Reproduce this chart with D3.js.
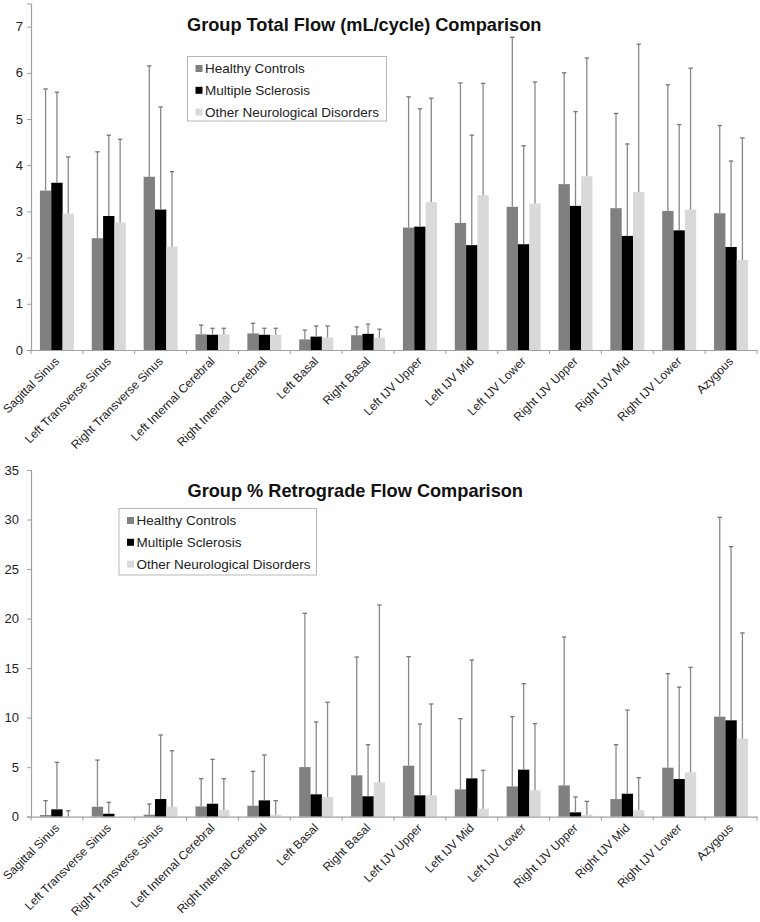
<!DOCTYPE html>
<html>
<head>
<meta charset="utf-8">
<script src="https://cdn.jsdelivr.net/npm/d3@7"></script>
<style>
  html, body { margin: 0; padding: 0; background: #fff; }
  svg { display: block; font-family: Arial, "Liberation Sans", sans-serif; }
</style>
</head>
<body>
<svg id="chart" width="760" height="922"></svg>
<script>
// ---------- DATA ----------
const categories = ["Sagittal Sinus", "Left Transverse Sinus", "Right Transverse Sinus",
  "Left Internal Cerebral", "Right Internal Cerebral", "Left Basal", "Right Basal",
  "Left IJV Upper", "Left IJV Mid", "Left IJV Lower", "Right IJV Upper", "Right IJV Mid",
  "Right IJV Lower", "Azygous"];
const seriesNames = ["Healthy Controls", "Multiple Sclerosis", "Other Neurological Disorders"];

// Chart 1: Group Total Flow (mL/cycle) - means and SD
const flowHC     = [3.45, 2.42, 3.75, 0.34, 0.36, 0.23, 0.32, 2.65, 2.75, 3.10, 3.59, 3.07, 3.01, 2.96];
const flowHCsd   = [2.20, 1.87, 2.40, 0.20, 0.22, 0.20, 0.18, 2.83, 3.03, 3.67, 2.41, 2.05, 2.73, 1.90];
const flowMS     = [3.62, 2.90, 3.04, 0.33, 0.33, 0.29, 0.35, 2.67, 2.27, 2.29, 3.12, 2.47, 2.59, 2.23];
const flowMSsd   = [1.96, 1.75, 2.22, 0.14, 0.14, 0.23, 0.21, 2.55, 2.38, 2.13, 2.04, 1.99, 2.29, 1.86];
const flowOND    = [2.95, 2.76, 2.24, 0.34, 0.33, 0.27, 0.27, 3.20, 3.35, 3.17, 3.76, 3.42, 3.04, 1.95];
const flowONDsd  = [1.23, 1.80, 1.62, 0.13, 0.14, 0.25, 0.18, 2.25, 2.42, 2.63, 2.56, 3.20, 3.06, 2.64];
const flowTicks  = [0, 1, 2, 3, 4, 5, 6, 7];

// Chart 2: Group % Retrograde Flow - means and SD
const retroHC    = [0.17, 1.01, 0.20, 1.04, 1.11, 5.01, 4.18, 5.15, 2.76, 3.06, 3.16, 1.78, 4.95, 10.10];
const retroHCsd  = [1.45, 4.71, 1.08, 2.80, 3.47, 15.52, 11.94, 11.01, 7.14, 7.04, 14.98, 5.49, 9.49, 20.12];
const retroMS    = [0.74, 0.30, 1.78, 1.31, 1.65, 2.26, 2.06, 2.16, 3.87, 4.75, 0.44, 2.32, 3.80, 9.73];
const retroMSsd  = [4.75, 1.15, 6.47, 4.48, 4.58, 7.30, 5.21, 7.20, 11.95, 8.68, 1.55, 8.45, 9.29, 17.53];
const retroOND   = [0.03, 0.00, 1.01, 0.67, 0.20, 1.99, 3.47, 2.16, 0.81, 2.66, 0.20, 0.67, 4.48, 7.88];
const retroONDsd = [0.57, 0.00, 5.65, 3.17, 1.42, 9.56, 17.90, 9.22, 3.87, 6.73, 1.35, 3.27, 10.60, 10.67];
const retroTicks = [0, 5, 10, 15, 20, 25, 30, 35];

const colors = ["#808080", "#000000", "#d9d9d9"];

// ---------- DRAW ----------
const svg = d3.select("#chart");

function drawChart(opt) {
  const g = svg.append("g");
  const x0 = d3.scaleBand().domain(categories).range([opt.left, opt.right])
    .paddingInner(0.344).paddingOuter(0.172);
  const x1 = d3.scaleBand().domain(seriesNames).range([0, x0.bandwidth()]);
  const y = d3.scaleLinear().domain(opt.domain).range([opt.bottom, opt.top]);

  const data = categories.map((c, i) => ({
    cat: c,
    vals: seriesNames.map((s, k) => ({ s, k, v: opt.means[k][i], sd: opt.sds[k][i] }))
  }));

  // bars
  const grp = g.selectAll("g.grp").data(data).join("g")
    .attr("transform", d => `translate(${x0(d.cat)},0)`);
  grp.selectAll("rect").data(d => d.vals).join("rect")
    .attr("x", d => x1(d.s))
    .attr("width", x1.bandwidth())
    .attr("y", d => y(d.v))
    .attr("height", d => y(0) - y(d.v))
    .attr("fill", d => colors[d.k]);

  // error bars (upward only)
  const eb = grp.selectAll("g.eb").data(d => d.vals.filter(v => v.sd > 0)).join("g");
  eb.append("line")
    .attr("x1", d => x1(d.s) + x1.bandwidth() / 2)
    .attr("x2", d => x1(d.s) + x1.bandwidth() / 2)
    .attr("y1", d => y(d.v))
    .attr("y2", d => y(d.v + d.sd))
    .attr("stroke", "#888").attr("stroke-width", 1.3);
  eb.append("line")
    .attr("x1", d => x1(d.s) + x1.bandwidth() / 2 - 2.2)
    .attr("x2", d => x1(d.s) + x1.bandwidth() / 2 + 2.2)
    .attr("y1", d => y(d.v + d.sd))
    .attr("y2", d => y(d.v + d.sd))
    .attr("stroke", "#777").attr("stroke-width", 1.3);

  // y axis
  const ya = g.append("g").attr("transform", `translate(${opt.left},0)`)
    .call(d3.axisLeft(y).tickValues(opt.ticks).tickSize(4).tickPadding(opt.tickPad).tickFormat(d3.format("d")));
  ya.select(".domain").attr("stroke", "#a0a0a0").attr("stroke-width", 1.2);
  ya.selectAll(".tick line").attr("stroke", "#a0a0a0");
  ya.selectAll(".tick text").attr("fill", "#222").style("font-size", "13px")
    .style("font-family", "Arial, 'Liberation Sans', sans-serif");

  // x axis
  const xa = g.append("g").attr("transform", `translate(0,${opt.bottom})`)
    .call(d3.axisBottom(x0).tickSize(0).tickPadding(0));
  xa.select(".domain").attr("stroke", "#a0a0a0").attr("stroke-width", 1.2);
  xa.selectAll(".tick text")
    .attr("text-anchor", "end")
    .attr("dy", 0)
    .attr("y", 0)
    .attr("transform", "translate(3,12) rotate(-45)")
    .attr("fill", "#222")
    .style("font-size", "12px")
    .style("font-family", "Arial, 'Liberation Sans', sans-serif");
  // category boundary ticks
  const bounds = categories.map(c => x0(c) - x0.step() * x0.paddingInner() / 2)
    .concat([opt.right]);
  g.selectAll("line.bt").data(bounds).join("line")
    .attr("x1", d => d).attr("x2", d => d)
    .attr("y1", opt.bottom).attr("y2", opt.bottom + 4)
    .attr("stroke", "#a0a0a0").attr("stroke-width", 1);

  // title
  g.append("text")
    .attr("x", opt.titleX).attr("y", opt.titleY)
    .attr("font-weight", "bold").attr("font-size", "18.2px").attr("fill", "#111")
    .text(opt.title);

  // legend
  const lg = g.append("g");
  lg.append("rect")
    .attr("x", opt.legX).attr("y", opt.legY)
    .attr("width", opt.legW).attr("height", opt.legH)
    .attr("fill", "#fff").attr("stroke", "#b8b8b8").attr("stroke-width", 1);
  seriesNames.forEach((s, k) => {
    const by = opt.legY + 16.5 + k * 21.8;
    lg.append("rect")
      .attr("x", opt.legX + 8).attr("y", by - 8)
      .attr("width", 7).attr("height", 7)
      .attr("fill", colors[k]);
    lg.append("text")
      .attr("x", opt.legX + 17.5).attr("y", by)
      .attr("font-size", "13.5px").attr("fill", "#222")
      .text(s);
  });
}

drawChart({
  left: 31, right: 757, top: 3.5, bottom: 350, domain: [0, 7.5], ticks: flowTicks, tickPad: 4,
  means: [flowHC, flowMS, flowOND], sds: [flowHCsd, flowMSsd, flowONDsd],
  title: "Group Total Flow (mL/cycle) Comparison", titleX: 187, titleY: 30.5,
  legX: 187.5, legY: 56.5, legW: 199, legH: 64.5
});

drawChart({
  left: 31, right: 757, top: 470, bottom: 816.7, domain: [0, 35], ticks: retroTicks, tickPad: 8,
  means: [retroHC, retroMS, retroOND], sds: [retroHCsd, retroMSsd, retroONDsd],
  title: "Group % Retrograde Flow Comparison", titleX: 187.5, titleY: 497,
  legX: 119, legY: 508.5, legW: 197.5, legH: 66.5
});
</script>
</body>
</html>
